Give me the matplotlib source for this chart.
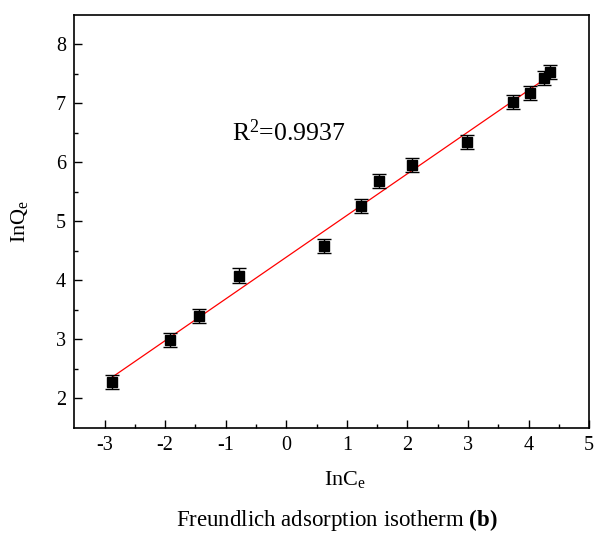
import numpy as np
import matplotlib
matplotlib.use("Agg")
import matplotlib.pyplot as plt

# Freundlich isotherm data
ln_ce = [-2.87, -1.92, -1.44, -0.78, 0.62, 1.24, 1.53, 2.07, 2.98, 3.74, 4.02, 4.25, 4.35]
ln_qe = [2.28, 2.98, 3.39, 4.08, 4.58, 5.26, 5.68, 5.95, 6.34, 7.02, 7.17, 7.43, 7.53]
err = [0.12] * len(ln_ce)
r2_text = "R$^2$=0.9937"

plt.rcParams["font.family"] = ["Liberation Serif", "DejaVu Serif"]
plt.rcParams["mathtext.fontset"] = "custom"
plt.rcParams["mathtext.rm"] = "Liberation Serif"
plt.rcParams["mathtext.it"] = "Liberation Serif:italic"
plt.rcParams["mathtext.bf"] = "Liberation Serif:bold"
plt.rcParams["axes.unicode_minus"] = False

fig = plt.figure(figsize=(5.94, 5.33), dpi=100)
ax = fig.add_axes([0.125, 0.1976, 0.867, 0.7744])

# linear fit
k, b = np.polyfit(ln_ce, ln_qe, 1)
xs = np.array([min(ln_ce), max(ln_ce)])
ax.plot(xs, k * xs + b, color="red", lw=0.9, zorder=2)

ax.errorbar(ln_ce, ln_qe, yerr=err, fmt="s", color="black", ms=7.5, mec="black",
            ecolor="black", elinewidth=1.0, capsize=5, capthick=1.0, zorder=3)

ax.text(-0.9, 6.5, r2_text, fontsize=18.5, va="center", ha="left")

ax.set_xlim(-3.5, 5)
ax.set_ylim(1.5, 8.5)
ax.set_xticks(range(-3, 6))
ax.set_yticks(range(2, 9))
ax.set_xticks(np.arange(-2.5, 5, 1), minor=True)
ax.set_yticks(np.arange(2.5, 8.5, 1), minor=True)
ax.tick_params(direction="in", which="major", length=6, width=1, labelsize=14.5, pad=6)
ax.tick_params(direction="in", which="minor", length=3, width=1)
for s in ax.spines.values():
    s.set_linewidth(1.2)

ax.set_xlabel("InC$_\\mathrm{e}$", fontsize=16)
ax.set_ylabel("InQ$_\\mathrm{e}$", fontsize=16)
ax.xaxis.set_label_coords(0.526, -0.1, transform=ax.transAxes)
ax.yaxis.set_label_coords(-0.086, 0.5, transform=ax.transAxes)

fig.text(0.567, 0.024, "Freundlich adsorption isotherm $\\mathbf{(b)}$", fontsize=16.5,
         ha="center", va="center")

fig.savefig("out.png", dpi=100)
